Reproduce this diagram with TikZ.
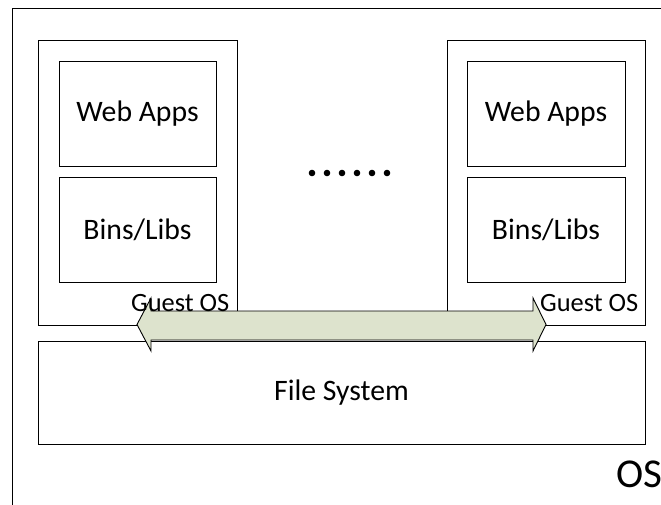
\documentclass[tikz,border=0pt]{standalone}
\usepackage{fontspec}
\setmainfont{Carlito}
\usetikzlibrary{positioning,calc}
\definecolor{arrowfill}{RGB}{221,227,205}
\tikzset{
    box/.style={
        draw,
        line width=0.9pt,
        inner sep=0pt
    },
    layer/.style={
        box,
        minimum width=157pt,
        minimum height=105pt,
        font=\fontsize{29.7}{30}\selectfont
    },
    guest/.style={
        box,
        minimum width=199pt,
        minimum height=285pt
    },
    guestlabel/.style={
        inner sep=0pt,
        anchor=base east,
        font=\fontsize{26.4}{27}\selectfont
    }
}

\begin{document}
\begin{tikzpicture}[x=1pt,y=-1pt]
\useasboundingbox (0,0) rectangle (661,505);
\clip (0,0) rectangle (661,505);
% host frame, cut by the page
\draw[line width=0.9pt] (12,8) rectangle (700,540);
% left guest
\node[guest] (guestA) at (137.5,182.5) {};
\node[layer] (webA) at (137.5,113.5) {Web Apps};
\node[layer] (binsA) at (137.5,229.5) {Bins/Libs};
% right guest
\node[guest, minimum width=198pt] (guestB) at (546,182.5) {};
\node[layer, minimum width=158pt] (webB) at (546,113.5) {Web Apps};
\node[layer, minimum width=158pt] (binsB) at (546,229.5) {Bins/Libs};
\foreach \i in {0,...,5}
    \fill (312+15*\i,173) circle (3.3pt);
% file system
\node[box, minimum width=607pt, minimum height=103pt,
    font=\fontsize{29.7}{30}\selectfont] (fs) at (341.5,392.5) {File System};
% shared arrow
\draw[line width=0.9pt, fill=arrowfill]
    (137,324.5) -- (151,298) -- (151,311) -- (533,311) -- (533,298)
    -- (546,324.5) -- (533,351) -- (533,340) -- (151,340) -- (151,351) -- cycle;
\node[guestlabel] (osA) at ([shift={(-8,-14)}]guestA.south east) {Guest OS};
\node[guestlabel] (osB) at ([shift={(-7,-14)}]guestB.south east) {Guest OS};
\node[inner sep=0pt, anchor=base west, font=\fontsize{41}{41}\selectfont]
    (host) at (616,487) {OS};
\end{tikzpicture}
\end{document}
